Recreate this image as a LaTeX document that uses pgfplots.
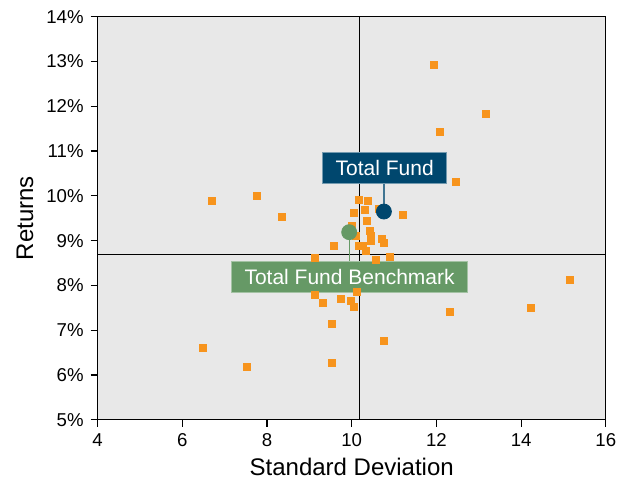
\documentclass[border=0pt]{standalone}
\usepackage{fontspec}
\setmainfont{Liberation Sans}
\usepackage{pgfplots}
\pgfplotsset{compat=1.18}
\definecolor{bgray}{HTML}{E8E8E8}
\definecolor{dotor}{HTML}{F7941D}
\definecolor{fundblue}{HTML}{00476E}
\definecolor{benchgreen}{HTML}{669966}

\begin{document}
\begin{tikzpicture}
\useasboundingbox (-48.8pt,-30.5pt) rectangle (266.1pt,209.85pt);
\begin{axis}[
  width=254pt, height=201.5pt, scale only axis,
  xmin=4, xmax=16, ymin=5, ymax=14,
  xtick={4,6,...,16}, ytick={5,6,...,14},
  yticklabel={\pgfmathprintnumber{\tick}\%},
  /pgf/number format/assume math mode=true,
  tick align=outside, major tick length=3.5pt,
  xtick pos=bottom, ytick pos=left,
  axis background/.style={fill=bgray},
  axis line style={black, line width=0.6pt},
  tick style={black, line width=0.6pt},
  ticklabel style={font=\fontsize{9.3}{11}\selectfont},
  label style={font=\fontsize{12}{14}\selectfont},
  xlabel={Standard Deviation}, ylabel={Returns},
  xlabel style={at={(axis description cs:0.5,-0.117)}, anchor=center},
  ylabel style={at={(axis description cs:-0.143,0.5)}, anchor=center},
  clip=false,
]
% quadrant lines
\addplot[black, line width=0.6pt] coordinates {(10.18,5) (10.18,14)};
\addplot[black, line width=0.6pt] coordinates {(4,8.70) (16,8.70)};

% peer universe
\addplot[only marks, mark=square*, mark size=1.75pt, color=dotor] coordinates {
(6.71,9.88) (7.75,9.99) (8.36,9.54) (10.18,9.92) (10.39,9.88)
(10.06,9.63) (10.32,9.68) (10.65,9.72) (11.20,9.57) (10.37,9.45)
(10.01,9.33) (10.42,9.21) (10.46,9.11) (10.46,9.00) (10.72,9.05)
(10.75,8.94) (9.57,8.88) (10.17,8.88) (10.27,8.89) (10.34,8.78)
(10.10,9.10) (10.57,8.57) (10.91,8.63) (9.14,8.62) (9.14,7.78)
(9.33,7.61) (9.75,7.70) (9.97,7.65) (10.06,7.52) (10.13,7.85)
(9.54,7.14) (10.75,6.76) (9.54,6.28) (6.49,6.61) (7.53,6.19)
(12.31,7.41) (14.22,7.50) (15.16,8.12) (11.93,12.92) (13.18,11.83)
(12.09,11.43) (12.47,10.32)
};

% leader lines
\addplot[fundblue!75!white, line width=0.6pt] coordinates {(10.76,9.65) (10.76,10.28)};
\addplot[benchgreen, line width=0.6pt] coordinates {(9.94,9.19) (9.94,8.54)};

% fund and benchmark
\addplot[only marks, mark=*, mark size=3.75pt, color=fundblue] coordinates {(10.76,9.65)};
\addplot[only marks, mark=*, mark size=3.75pt, color=benchgreen] coordinates {(9.94,9.19)};

\node[fill=fundblue, draw=fundblue!55!white, text=white, inner sep=0pt,
  minimum width=61.9pt, minimum height=15.5pt, font=\fontsize{10.5}{12}\selectfont]
  at (axis cs:10.78,10.63) {Total Fund};
\node[fill=benchgreen, draw=benchgreen!60!white, text=white, inner sep=0pt,
  minimum width=117.8pt, minimum height=15.5pt, font=\fontsize{10.5}{12}\selectfont]
  at (axis cs:9.95,8.20) {Total Fund Benchmark};
\end{axis}
\end{tikzpicture}
\end{document}
